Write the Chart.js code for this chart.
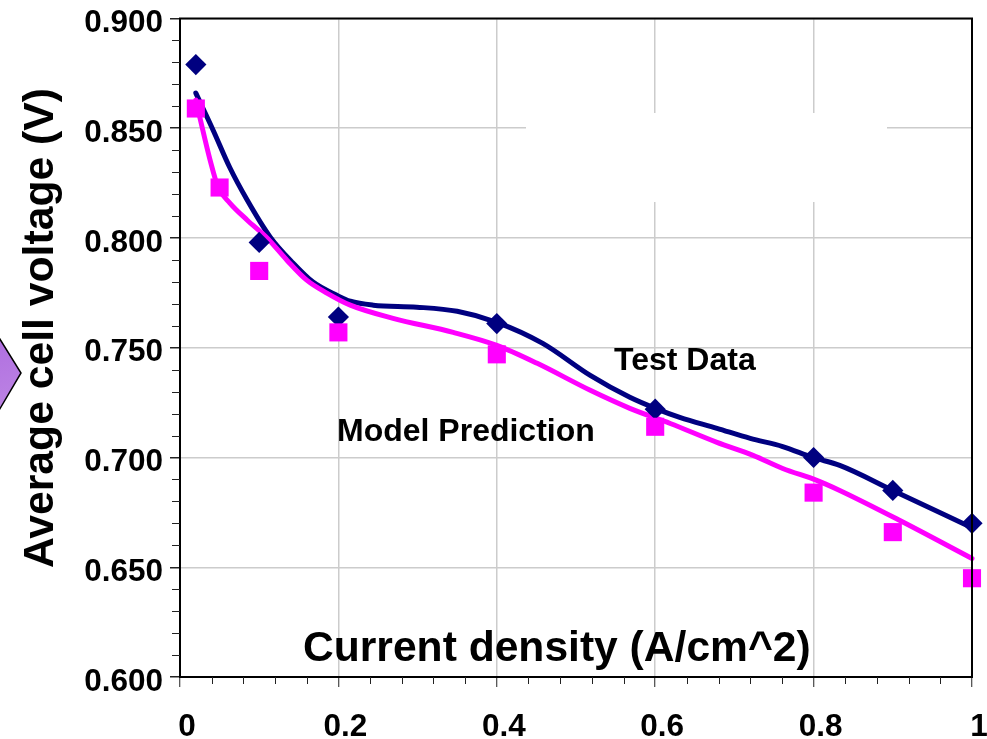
<!DOCTYPE html>
<html>
<head>
<meta charset="utf-8">
<style>html,body{margin:0;padding:0;background:#fff}#w{position:relative;width:987px;height:739px}</style>
<script src="https://cdn.jsdelivr.net/npm/chart.js@4"></script>
</head>
<body>
<div id="w"><canvas id="c" width="987" height="739"></canvas></div>
<script>
const pointX = [0.02, 0.05, 0.1, 0.2, 0.4, 0.6, 0.8, 0.9, 1];
const testPointX = [0.02, 0.1, 0.2, 0.4, 0.6, 0.8, 0.9, 1];
const testPoints = [0.879, 0.798, 0.764, 0.761, 0.722, 0.700, 0.685, 0.670];
const modelPoints = [0.859, 0.823, 0.785, 0.757, 0.747, 0.714, 0.684, 0.666, 0.645];
const testCurveX = [0.02, 0.042, 0.063, 0.085, 0.114, 0.143, 0.168, 0.198, 0.215, 0.244, 0.299, 0.35, 0.4, 0.458, 0.518, 0.568, 0.6, 0.631, 0.678, 0.72, 0.761, 0.799, 0.833, 0.9, 1];
const testCurve = [0.866, 0.849, 0.832, 0.8172, 0.8004, 0.7885, 0.7799, 0.7739, 0.7712, 0.7694, 0.7685, 0.7666, 0.7616, 0.752, 0.7374, 0.7274, 0.7224, 0.7183, 0.7133, 0.7087, 0.705, 0.700, 0.6964, 0.685, 0.668];
const modelCurveX = [0.02, 0.025, 0.038, 0.048, 0.063, 0.085, 0.11, 0.135, 0.16, 0.186, 0.215, 0.269, 0.345, 0.4, 0.451, 0.518, 0.568, 0.619, 0.678, 0.7235, 0.761, 0.804, 0.833, 0.909, 1];
const modelCurve = [0.8628, 0.855, 0.8355, 0.8232, 0.8159, 0.8081, 0.8, 0.7899, 0.7808, 0.7748, 0.7694, 0.7634, 0.757, 0.7511, 0.7429, 0.7306, 0.7224, 0.7155, 0.7069, 0.701, 0.695, 0.6896, 0.685, 0.6713, 0.654];
const xMinorTicks = [0.04, 0.08, 0.12, 0.16, 0.24, 0.28, 0.32, 0.36, 0.44, 0.48, 0.52, 0.56, 0.64, 0.68, 0.72, 0.76, 0.84, 0.88, 0.92, 0.96];
const yMinorTicks = [0.61, 0.62, 0.63, 0.64, 0.66, 0.67, 0.68, 0.69, 0.71, 0.72, 0.73, 0.74, 0.76, 0.77, 0.78, 0.79, 0.81, 0.82, 0.83, 0.84, 0.86, 0.87, 0.88, 0.89];
const testLabel = 'Test Data';
const modelLabel = 'Model Prediction';
const xTitle = 'Current density (A/cm^2)';
const yTitle = 'Average cell voltage (V)';

const zip = (xs, ys) => xs.map((x, i) => ({x, y: ys[i]}));
const FONT = '"Liberation Sans", Arial, sans-serif';
const noPad = s => { s.paddingTop = s.paddingBottom = s.paddingLeft = s.paddingRight = 0; };

const decor = {
  id: 'decor',
  beforeDatasetsDraw(chart) {
    const {ctx} = chart;
    ctx.save();
    // white patch pasted over the gridlines in the original figure
    ctx.fillStyle = '#fff';
    ctx.fillRect(526, 113, 361, 89);
    ctx.restore();
  },
  afterDraw(chart) {
    const {ctx, chartArea: a, scales: {x, y}} = chart;
    ctx.save();
    // frame
    ctx.strokeStyle = '#000';
    ctx.lineWidth = 2;
    ctx.strokeRect(a.left, a.top, a.right - a.left, a.bottom - a.top);
    // minor ticks
    ctx.lineWidth = 1;
    ctx.strokeStyle = '#222';
    ctx.beginPath();
    xMinorTicks.forEach(v => { const p = Math.round(x.getPixelForValue(v)) + .5; ctx.moveTo(p, a.bottom); ctx.lineTo(p, a.bottom + 7); });
    yMinorTicks.forEach(v => { const p = Math.round(y.getPixelForValue(v)) + .5; ctx.moveTo(a.left, p); ctx.lineTo(a.left - 8, p); });
    ctx.stroke();
    // callout arrow fragment at the left edge
    const g = ctx.createLinearGradient(0, 338, 21, 410);
    g.addColorStop(0, '#b06fe0');
    g.addColorStop(1, '#bd85e4');
    ctx.fillStyle = g;
    ctx.strokeStyle = '#000';
    ctx.lineWidth = 1.5;
    ctx.beginPath();
    ctx.moveTo(-2, 336);
    ctx.lineTo(21, 373);
    ctx.lineTo(-2, 412);
    ctx.closePath();
    ctx.fill();
    ctx.stroke();
    // in-plot text
    ctx.fillStyle = '#000';
    ctx.textBaseline = 'alphabetic';
    ctx.textAlign = 'left';
    ctx.font = 'bold 32px ' + FONT;
    ctx.fillText(testLabel, 614, 370);
    ctx.fillText(modelLabel, 337, 441);
    ctx.font = 'bold 42.6px ' + FONT;
    ctx.fillText(xTitle, 303, 661);
    // y axis title
    ctx.translate(53, 328);
    ctx.rotate(-Math.PI / 2);
    ctx.textAlign = 'center';
    ctx.font = 'bold 42.7px ' + FONT;
    ctx.fillText(yTitle, 0, 0);
    ctx.restore();
  }
};

new Chart(document.getElementById('c'), {
  type: 'scatter',
  plugins: [decor],
  data: {
    datasets: [
      {label: 'Model points', data: zip(pointX, modelPoints), order: 1, pointStyle: 'rect', pointRadius: 12.8, pointHoverRadius: 12.8, backgroundColor: '#ff00ff', borderWidth: 0, showLine: false, clip: false},
      {label: 'Test points', data: zip(testPointX, testPoints), order: 2, pointStyle: 'rectRot', pointRadius: 10.6, pointHoverRadius: 10.6, backgroundColor: '#000080', borderWidth: 0, showLine: false, clip: false},
      {label: 'Model curve', data: zip(modelCurveX, modelCurve), order: 3, showLine: true, borderColor: '#ff00ff', borderWidth: 5, pointRadius: 0, cubicInterpolationMode: 'monotone', clip: false, borderCapStyle: 'round'},
      {label: 'Test curve', data: zip(testCurveX, testCurve), order: 4, showLine: true, borderColor: '#000080', borderWidth: 5, pointRadius: 0, cubicInterpolationMode: 'monotone', clip: false, borderCapStyle: 'round'}
    ]
  },
  options: {
    responsive: false,
    animation: false,
    layout: {padding: {top: 18.5, right: 15, left: 0, bottom: 0}},
    plugins: {legend: {display: false}, tooltip: {enabled: false}},
    scales: {
      x: {
        type: 'linear', min: 0, max: 1,
        afterFit(s) { s.height = 62; noPad(s); },
        ticks: {stepSize: 0.2, color: '#000', font: {family: FONT, weight: 'bold', size: 31.5}, labelOffset: 7, padding: 21, maxRotation: 0,
          callback: v => (v === 0 || v === 1) ? String(v) : v.toFixed(1)},
        grid: {color: '#cccccc', lineWidth: 1.5, tickColor: '#222', tickLength: 10, tickWidth: 1},
        border: {display: false}
      },
      y: {
        type: 'linear', min: 0.6, max: 0.9,
        afterFit(s) { s.width = 180; noPad(s); },
        ticks: {stepSize: 0.05, color: '#000', font: {family: FONT, weight: 'bold', size: 31.5}, padding: 7, labelOffset: 5,
          callback: v => v.toFixed(3)},
        grid: {color: '#cccccc', lineWidth: 1.5, tickColor: '#222', tickLength: 10, tickWidth: 1.5},
        border: {display: false}
      }
    }
  }
});
</script>
</body>
</html>
